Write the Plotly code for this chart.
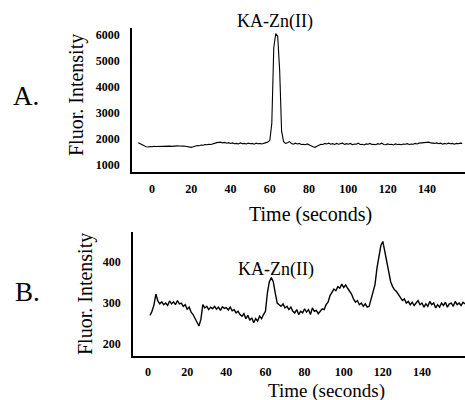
import plotly.graph_objects as go

# ---------------- data ----------------
time_a = list(range(-7, 159))
intensity_a = [
    1860, 1820, 1770, 1730, 1700, 1690, 1710,            # -7..-1
    1700, 1720, 1710, 1715, 1700, 1720, 1730, 1710, 1720, 1725,  # 0..9
    1715, 1730, 1720, 1735, 1730, 1740, 1725, 1720, 1700, 1690,  # 10..19
    1680, 1700, 1720, 1750, 1740, 1770, 1760, 1790, 1780, 1800,  # 20..29
    1790, 1820, 1840, 1860, 1870, 1880, 1850, 1870, 1840, 1860,  # 30..39
    1830, 1850, 1820, 1830, 1810, 1850, 1820, 1830, 1810, 1840,  # 40..49
    1820, 1830, 1800, 1840, 1820, 1830, 1810, 1850, 1860, 1880,  # 50..59
    1950, 2600, 5500, 6050, 5950, 4650, 2300, 1900, 1830, 1860,  # 60..69
    1900, 1830, 1800, 1840, 1810, 1830, 1790, 1800, 1780, 1810,  # 70..79
    1760, 1740, 1700, 1680, 1720, 1760, 1800, 1790, 1830, 1810,  # 80..89
    1840, 1800, 1820, 1790, 1830, 1800, 1810, 1840, 1790, 1820,  # 90..99
    1800, 1830, 1780, 1810, 1800, 1840, 1790, 1800, 1770, 1810,  # 100..109
    1800, 1830, 1790, 1800, 1780, 1820, 1800, 1840, 1790, 1780,  # 110..119
    1810, 1790, 1800, 1770, 1810, 1790, 1800, 1780, 1810, 1800,  # 120..129
    1820, 1790, 1810, 1800, 1830, 1810, 1840, 1850, 1860, 1880,  # 130..139
    1870, 1880, 1850, 1840, 1830, 1850, 1820, 1840, 1800, 1830,  # 140..149
    1810, 1840, 1820, 1830, 1800, 1830, 1820, 1840, 1830,        # 150..158
]

time_b = list(range(1, 163))
intensity_b = [
    270, 280, 295, 322, 305, 298, 303, 296, 300,                 # 1..9
    294, 305, 298, 303, 296, 306, 298, 300, 292, 296,            # 10..19
    285, 290, 278, 272, 262, 250, 244, 260, 296, 288,            # 20..29
    292, 284, 290, 286, 292, 285, 290, 282, 291, 287,            # 30..39
    289, 283, 290, 281, 284, 276, 280, 272, 268, 274,            # 40..49
    262, 270, 258, 264, 252, 262, 256, 268, 262, 272,            # 50..59
    280, 325, 352, 362, 352, 325, 300, 296, 292, 298,            # 60..69
    288, 292, 284, 290, 280, 276, 284, 272, 280, 276,            # 70..79
    286, 278, 284, 272, 288, 280, 282, 274, 280, 286,            # 80..89
    284, 296, 302, 318, 326, 334, 330, 340, 336, 346,            # 90..99
    338, 344, 336, 330, 322, 310, 302, 306, 296, 300,            # 100..109
    292, 298, 290, 292, 310, 330, 345, 385, 410, 440,            # 110..119
    450, 425, 405, 380, 352, 340, 332, 328, 320, 314,            # 120..129
    306, 310, 300, 304, 296, 302, 294, 300, 306, 296,            # 130..139
    300, 290, 298, 292, 304, 296, 300, 288, 296, 290,            # 140..149
    300, 294, 302, 290, 298, 300, 292, 304, 296, 300,            # 150..159
    294, 302, 298,                                               # 160..162
]

x_ticks = [0, 20, 40, 60, 80, 100, 120, 140]
y_ticks_a = [1000, 2000, 3000, 4000, 5000, 6000]
y_ticks_b = [200, 300, 400]

# ---------------- figure ----------------
W, H = 465, 400
ML, MR, MT, MB = 132, 0, 28, 44
PW, PH = W - ML - MR, H - MT - MB

def px(x):
    return (x - ML) / PW

def py(y):
    return (H - MB - y) / PH

SERIF = "Liberation Serif"

fig = go.Figure()
fig.add_trace(go.Scatter(x=time_a, y=intensity_a, mode="lines",
                         line=dict(color="black", width=1.1),
                         xaxis="x", yaxis="y", showlegend=False))
fig.add_trace(go.Scatter(x=time_b, y=intensity_b, mode="lines",
                         line=dict(color="black", width=1.4),
                         xaxis="x2", yaxis="y2", showlegend=False))

def axis(standoff, **kw):
    d = dict(showgrid=False, zeroline=False, showline=True,
             linecolor="black", linewidth=1.5, ticks="",
             ticklabelstandoff=standoff, automargin=False,
             tickfont=dict(family=SERIF, size=12, color="black",
                           weight="bold"))
    d.update(kw)
    return d

fig.update_layout(
    width=W, height=H,
    margin=dict(l=ML, r=MR, t=MT, b=MB, autoexpand=False),
    font=dict(family=SERIF, color="black"),
    paper_bgcolor="white", plot_bgcolor="white",
    xaxis=axis(5, domain=[0, 1], anchor="y", range=[-10.2, 159.4],
               tickvals=x_ticks),
    yaxis=axis(8, domain=[py(172), 1], anchor="x", range=[731, 6269],
               tickvals=y_ticks_a),
    xaxis2=axis(4, domain=[px(133), 1], anchor="y2", range=[-7.7, 162],
                tickvals=x_ticks),
    yaxis2=axis(8, domain=[0, py(232)], anchor="x2", range=[171, 473],
                tickvals=y_ticks_b),
)

def label(text, x, y, size, angle=0):
    fig.add_annotation(text=text, x=px(x), y=py(y), xref="paper", yref="paper",
                       xanchor="center", yanchor="middle", showarrow=False,
                       textangle=angle,
                       font=dict(family=SERIF, size=size, color="black"))

label("A.", 26, 96, 27)
label("B.", 27, 292, 27)
label("Fluor. Intensity", 77, 95, 20, -90)
label("Fluor. Intensity", 85, 294, 20, -90)
label("Time (seconds)", 310, 215, 20)
label("Time (seconds)", 326, 391, 19)
label("KA-Zn(II)", 275, 21, 18)
label("KA-Zn(II)", 276, 269, 18)

fig.write_html("out.html",
               config={"displayModeBar": False},
               post_script="document.body.style.margin='0';"
                           "document.body.style.overflow='hidden';")
